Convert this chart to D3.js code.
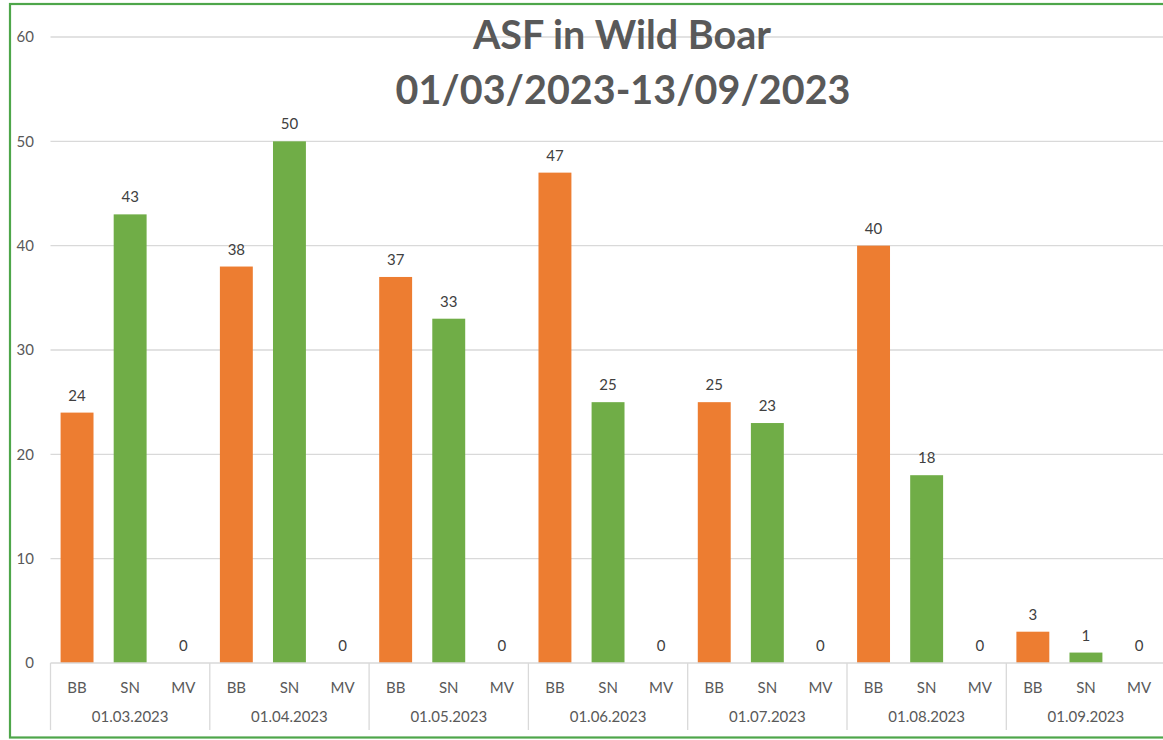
<!DOCTYPE html>
<html>
<head>
<meta charset="utf-8">
<script src="https://cdn.jsdelivr.net/npm/d3@7"></script>
<style>
  body { margin: 0; background: #fff; }
  svg { display: block; font-family: Lato, "Open Sans", sans-serif; }
  .grid line { stroke: #d9d9d9; stroke-width: 1.3; }
  .ylab { fill: #595959; font-size: 15px; }
  .val { fill: #404040; font-size: 15px; }
  .sub, .grp { fill: #595959; font-size: 15px; }
</style>
</head>
<body>
<svg id="chart" width="1163" height="740"></svg>
<script>
// months along the axis, three states per month
const months = ['01.03.2023', '01.04.2023', '01.05.2023', '01.06.2023', '01.07.2023', '01.08.2023', '01.09.2023'];
const states = ['BB', 'SN', 'MV'];
const bb = [24, 38, 37, 47, 25, 40, 3];
const sn = [43, 50, 33, 25, 23, 18, 1];
const mv = [0, 0, 0, 0, 0, 0, 0];
const yTicks = [0, 10, 20, 30, 40, 50, 60];
const stateColors = { BB: '#ED7D31', SN: '#70AD47', MV: '#A5A5A5' };

const svg = d3.select('#chart');
const plotLeft = 50.5, plotTop = 37, plotBottom = 663;
const groupW = 159.3;

const x0 = d3.scaleBand().domain(months).range([plotLeft, plotLeft + groupW * months.length]);
const x1 = d3.scaleBand().domain(states).range([0, groupW]).paddingInner(0.38).paddingOuter(0.19);
const y = d3.scaleLinear().domain([0, 60]).range([plotBottom, plotTop]);

// frame
svg.append('rect')
  .attr('x', 10).attr('y', 4)
  .attr('width', 1170).attr('height', 733.5)
  .attr('fill', 'none').attr('stroke', '#4ea64a').attr('stroke-width', 2.2);

// gridlines
svg.append('g').attr('class', 'grid')
  .selectAll('line')
  .data(yTicks.filter((t) => t > 0))
  .join('line')
  .attr('x1', plotLeft).attr('x2', 1163)
  .attr('y1', (t) => y(t)).attr('y2', (t) => y(t));

svg.selectAll('.ylab')
  .data(yTicks)
  .join('text')
  .attr('class', 'ylab')
  .attr('x', 34)
  .attr('y', (t) => y(t))
  .attr('dy', '0.35em')
  .attr('text-anchor', 'end')
  .text((t) => t);

// title
const title = svg.append('text')
  .attr('text-anchor', 'middle')
  .attr('fill', '#595959')
  .attr('font-weight', 'bold')
  .attr('font-size', 39.5);
title.append('tspan').attr('x', 622).attr('y', 49).text('ASF in Wild Boar');
title.append('tspan').attr('x', 623).attr('y', 104).text('01/03/2023-13/09/2023');

// bars
const rows = [];
months.forEach((m, i) => {
  rows.push({ m: m, s: 'BB', v: bb[i] });
  rows.push({ m: m, s: 'SN', v: sn[i] });
  rows.push({ m: m, s: 'MV', v: mv[i] });
});

svg.append('g')
  .selectAll('rect')
  .data(rows)
  .join('rect')
  .attr('x', (d) => x0(d.m) + x1(d.s))
  .attr('width', x1.bandwidth())
  .attr('y', (d) => y(d.v))
  .attr('height', (d) => y(0) - y(d.v))
  .attr('fill', (d) => stateColors[d.s]);

svg.selectAll('.val')
  .data(rows)
  .join('text')
  .attr('class', 'val')
  .attr('x', (d) => x0(d.m) + x1(d.s) + x1.bandwidth() / 2)
  .attr('y', (d) => y(d.v) - 12)
  .attr('text-anchor', 'middle')
  .text((d) => d.v);

// category axis
const ax = svg.append('g').attr('stroke', '#d9d9d9').attr('stroke-width', 1.3);
ax.append('line').attr('x1', plotLeft).attr('x2', 1163).attr('y1', plotBottom).attr('y2', plotBottom);
ax.selectAll('.div')
  .data(months)
  .join('line')
  .attr('class', 'div')
  .attr('x1', (m) => x0(m)).attr('x2', (m) => x0(m))
  .attr('y1', plotBottom).attr('y2', 730);

svg.selectAll('.sub')
  .data(rows)
  .join('text')
  .attr('class', 'sub')
  .attr('x', (d) => x0(d.m) + x1(d.s) + x1.bandwidth() / 2)
  .attr('y', 693)
  .attr('text-anchor', 'middle')
  .text((d) => d.s);

svg.selectAll('.grp')
  .data(months)
  .join('text')
  .attr('class', 'grp')
  .attr('x', (m) => x0(m) + groupW / 2)
  .attr('y', 722)
  .attr('text-anchor', 'middle')
  .text((m) => m);
</script>
</body>
</html>
